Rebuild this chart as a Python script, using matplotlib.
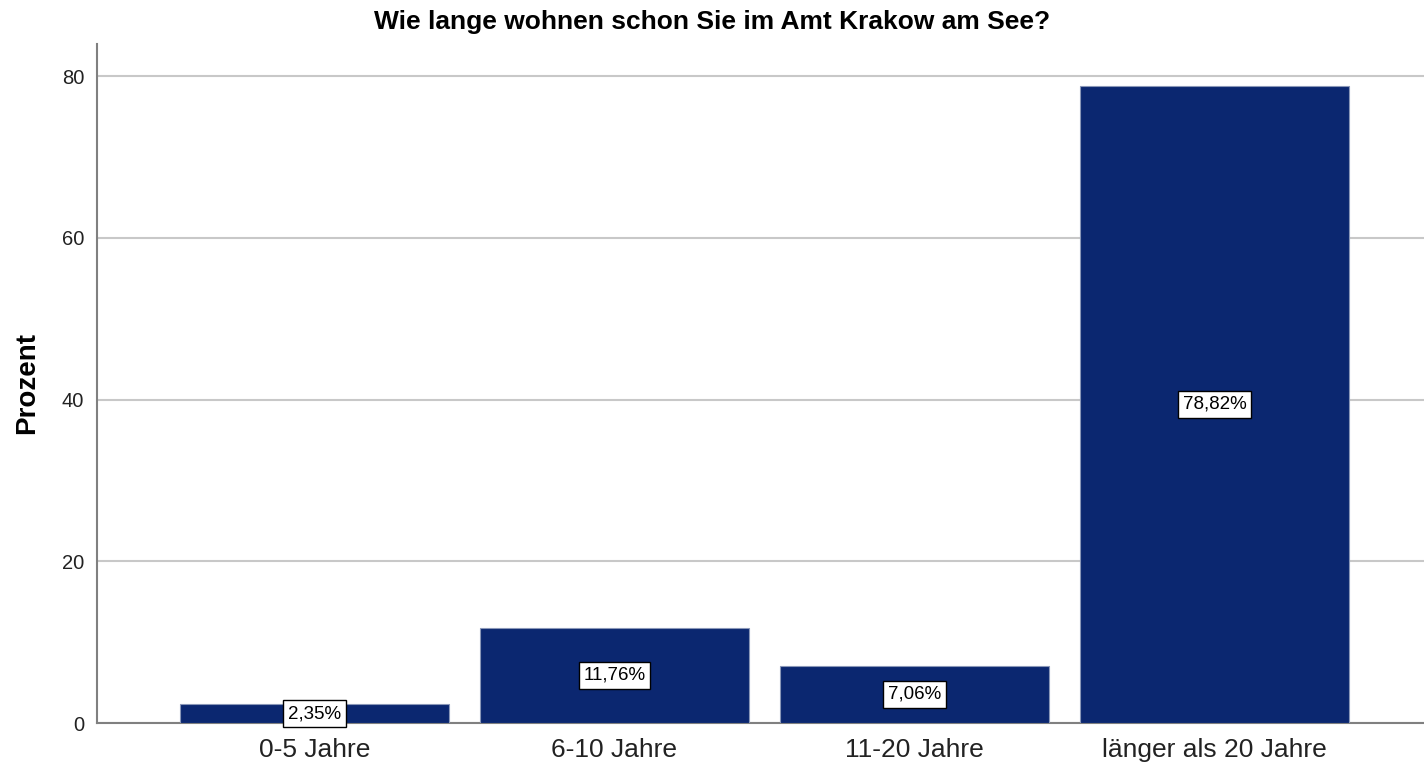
import matplotlib
matplotlib.use("Agg")
import matplotlib.pyplot as plt

categories = ["0-5 Jahre", "6-10 Jahre", "11-20 Jahre", "länger als 20 Jahre"]
values = [2.35, 11.76, 7.06, 78.82]
value_labels = ["2,35%", "11,76%", "7,06%", "78,82%"]
yticks = [0, 20, 40, 60, 80]

plt.rcParams['font.family'] = ['Liberation Sans', 'DejaVu Sans']

fig = plt.figure(figsize=(14.24, 7.66), dpi=100)
ax = fig.add_axes([0.068, 0.0561, 0.932, 0.8865])

x = list(range(len(categories)))
ax.bar(x, values, width=0.897, color='#0b2770', edgecolor='#8a97b8', linewidth=0.8, zorder=3)

for xi, v, lab in zip(x, values, value_labels):
    ax.text(xi, v / 2, lab, ha='center', va='center', fontsize=13.5, zorder=5,
            bbox=dict(boxstyle='square,pad=0.25', facecolor='white', edgecolor='black', linewidth=1.0))

ax.set_xlim(-0.725, 3.698)
ax.set_ylim(0, 84)
ax.set_yticks(yticks)
ax.set_yticklabels([str(t) for t in yticks], fontsize=14.5, color='#222222')
ax.set_xticks(x)
ax.set_xticklabels(categories, fontsize=19, color='#222222')
ax.tick_params(axis='x', length=0, pad=11)
ax.tick_params(axis='y', length=0, pad=9)

ax.grid(axis='y', color='#c8c8c8', linewidth=1.5, zorder=0)
ax.set_axisbelow(True)
for s in ['top', 'right']:
    ax.spines[s].set_visible(False)
for s in ['left', 'bottom']:
    ax.spines[s].set_color('#808080')
    ax.spines[s].set_linewidth(1.5)

ax.set_ylabel('Prozent', fontsize=20, fontweight='bold', labelpad=16)
fig.text(0.5, 0.971, 'Wie lange wohnen schon Sie im Amt Krakow am See?', ha='center', va='center',
         fontsize=19, fontweight='bold')

fig.savefig('out.png', dpi=100)
